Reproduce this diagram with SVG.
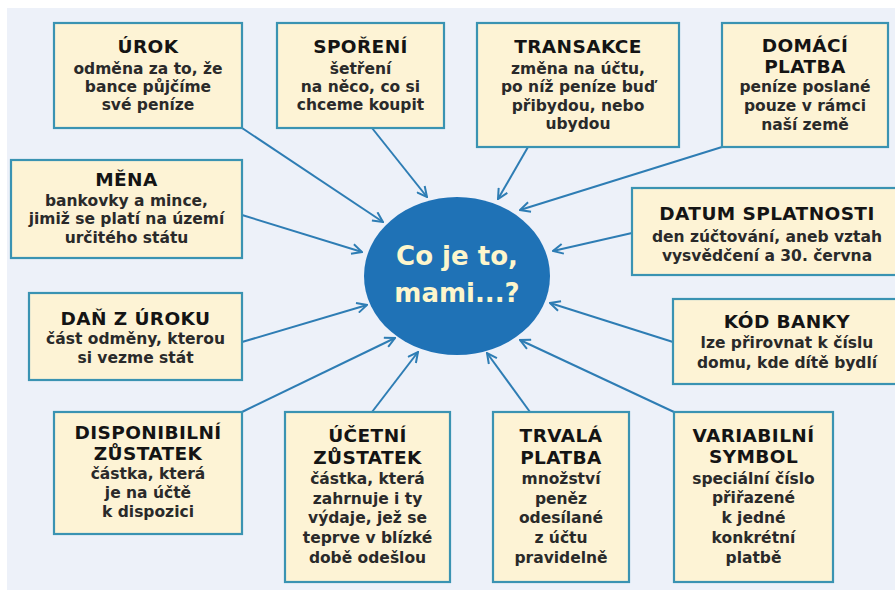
<svg xmlns="http://www.w3.org/2000/svg" width="895" height="590" viewBox="0 0 895 590">
<style>
.box{fill:#fdf3d5;stroke:#3a93b2;stroke-width:2.2}
.t{font-family:"DejaVu Sans",sans-serif;font-weight:bold;font-size:18.5px;fill:#141414;text-anchor:middle;letter-spacing:0.4px}
.d{font-family:"DejaVu Sans",sans-serif;font-weight:bold;font-size:15.5px;fill:#2a2a2a;text-anchor:middle}
.c{stroke:#2e7db4;stroke-width:2;fill:none;marker-end:url(#ah)}
.ct{font-family:"DejaVu Sans",sans-serif;font-weight:bold;font-size:26px;fill:#fdf6cc;text-anchor:middle}
</style>
<defs>
<marker id="ah" viewBox="0 0 12 12" refX="11" refY="6" markerWidth="12" markerHeight="12" markerUnits="userSpaceOnUse" orient="auto">
<path d="M1,1 L11,6 L1,11" fill="none" stroke="#2e7db4" stroke-width="2"/>
</marker>
</defs>
<rect x="0" y="0" width="895" height="590" fill="#ffffff"/>
<rect x="7" y="8" width="888" height="582" fill="#edf1f9"/>

<g id="connectors">
<line class="c" x1="242" y1="128" x2="383" y2="222"/>
<line class="c" x1="372" y1="128" x2="427" y2="197"/>
<line class="c" x1="528" y1="147" x2="498" y2="199"/>
<line class="c" x1="722" y1="147" x2="520" y2="210"/>
<line class="c" x1="242" y1="215" x2="362" y2="252"/>
<line class="c" x1="632" y1="233" x2="553" y2="251"/>
<line class="c" x1="242" y1="342" x2="367" y2="305"/>
<line class="c" x1="673" y1="342" x2="550" y2="303"/>
<line class="c" x1="242" y1="412" x2="395" y2="338"/>
<line class="c" x1="372" y1="412" x2="418" y2="352"/>
<line class="c" x1="530" y1="412" x2="487" y2="353"/>
<line class="c" x1="674" y1="412" x2="520" y2="340"/>
</g>

<g id="center">
<ellipse cx="457" cy="276" rx="93" ry="79" fill="#1f72b6"/>
<text class="ct" x="457" y="265">Co je to,</text>
<text class="ct" x="457" y="302">mami...?</text>
</g>

<g id="urok">
<rect class="box" x="54" y="23" width="188" height="105"/>
<text class="t" x="148" y="53">ÚROK</text>
<text class="d" x="148" y="74">odměna za to, že</text>
<text class="d" x="148" y="92">bance půjčíme</text>
<text class="d" x="148" y="110">své peníze</text>
</g>

<g id="sporeni">
<rect class="box" x="277" y="23" width="167" height="105"/>
<text class="t" x="360.5" y="53">SPOŘENÍ</text>
<text class="d" x="360.5" y="74">šetření</text>
<text class="d" x="360.5" y="92">na něco, co si</text>
<text class="d" x="360.5" y="110">chceme koupit</text>
</g>

<g id="transakce">
<rect class="box" x="477" y="23" width="202" height="124"/>
<text class="t" x="578" y="53">TRANSAKCE</text>
<text class="d" x="578" y="74">změna na účtu,</text>
<text class="d" x="578" y="92">po níž peníze buď</text>
<text class="d" x="578" y="111">přibydou, nebo</text>
<text class="d" x="578" y="129">ubydou</text>
</g>

<g id="domaci">
<rect class="box" x="722" y="23" width="166" height="124"/>
<text class="t" x="805" y="52">DOMÁCÍ</text>
<text class="t" x="805" y="73">PLATBA</text>
<text class="d" x="805" y="92">peníze poslané</text>
<text class="d" x="805" y="111">pouze v rámci</text>
<text class="d" x="805" y="130">naší země</text>
</g>

<g id="mena">
<rect class="box" x="11" y="160" width="231" height="98"/>
<text class="t" x="126.5" y="186">MĚNA</text>
<text class="d" x="126.5" y="206">bankovky a mince,</text>
<text class="d" x="126.5" y="224">jimiž se platí na území</text>
<text class="d" x="126.5" y="243">určitého státu</text>
</g>

<g id="datum">
<rect class="box" x="632" y="188" width="270" height="87"/>
<text class="t" x="767" y="220">DATUM SPLATNOSTI</text>
<text class="d" x="767" y="242">den zúčtování, aneb vztah</text>
<text class="d" x="767" y="261">vysvědčení a 30. června</text>
</g>

<g id="dan">
<rect class="box" x="29" y="293" width="213" height="87"/>
<text class="t" x="135.5" y="325">DAŇ Z ÚROKU</text>
<text class="d" x="135.5" y="344">část odměny, kterou</text>
<text class="d" x="135.5" y="363">si vezme stát</text>
</g>

<g id="kod">
<rect class="box" x="673" y="299" width="229" height="85"/>
<text class="t" x="787" y="328">KÓD BANKY</text>
<text class="d" x="787" y="348">lze přirovnat k číslu</text>
<text class="d" x="787" y="368">domu, kde dítě bydlí</text>
</g>

<g id="disponibilni">
<rect class="box" x="54" y="412" width="188" height="122"/>
<text class="t" x="148" y="439">DISPONIBILNÍ</text>
<text class="t" x="148" y="460">ZŮSTATEK</text>
<text class="d" x="148" y="479">částka, která</text>
<text class="d" x="148" y="498">je na účtě</text>
<text class="d" x="148" y="517">k dispozici</text>
</g>

<g id="ucetni">
<rect class="box" x="285" y="412" width="165" height="170"/>
<text class="t" x="367.5" y="442">ÚČETNÍ</text>
<text class="t" x="367.5" y="464">ZŮSTATEK</text>
<text class="d" x="367.5" y="484">částka, která</text>
<text class="d" x="367.5" y="504">zahrnuje i ty</text>
<text class="d" x="367.5" y="523">výdaje, jež se</text>
<text class="d" x="367.5" y="543">teprve v blízké</text>
<text class="d" x="367.5" y="563">době odešlou</text>
</g>

<g id="trvala">
<rect class="box" x="493" y="412" width="136" height="170"/>
<text class="t" x="561" y="442">TRVALÁ</text>
<text class="t" x="561" y="464">PLATBA</text>
<text class="d" x="561" y="484">množství</text>
<text class="d" x="561" y="504">peněz</text>
<text class="d" x="561" y="523">odesílané</text>
<text class="d" x="561" y="543">z účtu</text>
<text class="d" x="561" y="563">pravidelně</text>
</g>

<g id="variabilni">
<rect class="box" x="674" y="412" width="159" height="170"/>
<text class="t" x="753.5" y="442">VARIABILNÍ</text>
<text class="t" x="753.5" y="463">SYMBOL</text>
<text class="d" x="753.5" y="484">speciální číslo</text>
<text class="d" x="753.5" y="503">přiřazené</text>
<text class="d" x="753.5" y="523">k jedné</text>
<text class="d" x="753.5" y="543">konkrétní</text>
<text class="d" x="753.5" y="563">platbě</text>
</g>
</svg>
